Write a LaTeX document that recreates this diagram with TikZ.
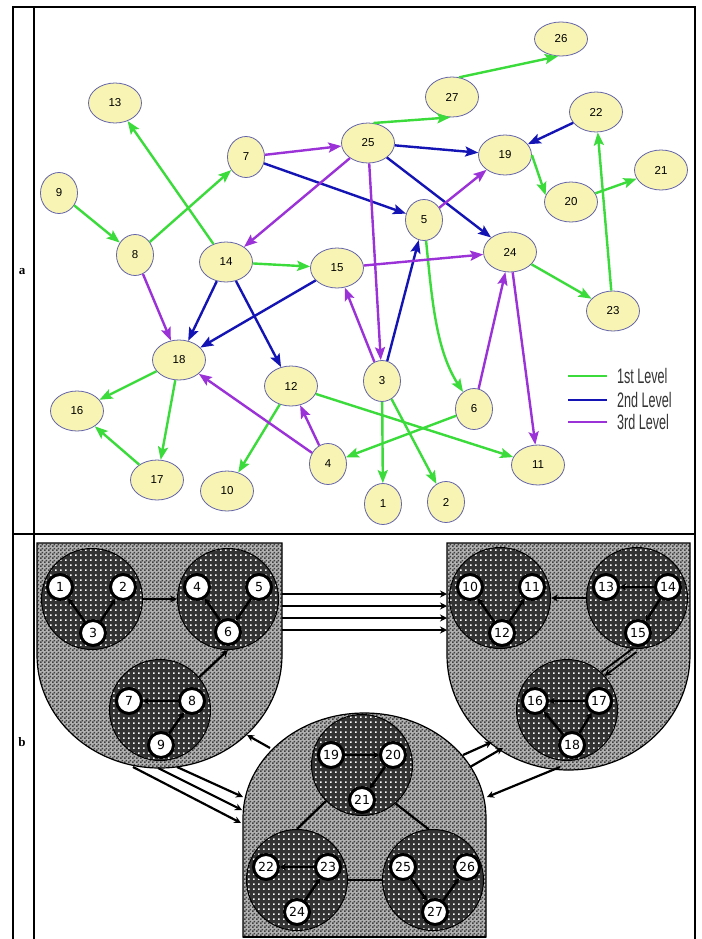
\documentclass[tikz,border=0pt]{standalone}
\usepackage{fontspec}
\setmainfont{Liberation Sans}
\newfontfamily\numfont{DejaVu Sans}
\newfontfamily\labfont{Liberation Serif}
\usetikzlibrary{shapes.geometric,arrows.meta,patterns.meta}

\definecolor{lvlone}{HTML}{3ADB3A}
\definecolor{lvltwo}{HTML}{1414B4}
\definecolor{lvlthree}{HTML}{9A32D8}
\definecolor{nodefill}{HTML}{F8F4B4}
\definecolor{nodeedge}{HTML}{6464AA}

% halftone screens for the grouped view
\tikzdeclarepattern{
  name=lightht,
  type=uncolored,
  bounding box={(0pt,0pt) and (4pt,4pt)},
  tile size={(4pt,4pt)},
  code={
    \fill (0pt,0pt) rectangle (2pt,2pt);
    \fill (2pt,2pt) rectangle (4pt,4pt);
  }
}
\tikzdeclarepattern{
  name=darkht,
  type=uncolored,
  bounding box={(0pt,0pt) and (4.5pt,4.5pt)},
  tile size={(4.5pt,4.5pt)},
  code={
    \fill (0pt,0pt) rectangle (1.8pt,1.8pt);
  }
}

\begin{document}
\begin{tikzpicture}[x=1pt,y=-1pt,
  bub/.style={ellipse, draw=nodeedge, line width=0.8pt, fill=nodefill,
    minimum width=53pt, minimum height=40pt, inner sep=0pt,
    font=\fontsize{11.5}{11.5}\selectfont},
  sbub/.style={bub, minimum width=37pt, minimum height=41pt},
  tip/.style={-{Stealth[length=13pt,width=10pt,inset=2.5pt]}},
  gline/.style={lvlone, line width=2.4pt, tip},
  bline/.style={lvltwo, line width=2.4pt, tip},
  pline/.style={lvlthree, line width=2.4pt, tip},
  legtext/.style={anchor=west, xscale=0.6, text=black!80,
    font=\fontsize{21}{21}\selectfont},
  zone/.style={draw=black, line width=1.2pt, preaction={fill=black!30},
    pattern={lightht}, pattern color=black!75},
  cluster/.style={circle, draw=black, line width=1pt, minimum size=101pt,
    inner sep=0pt, preaction={fill=black!80}, pattern={darkht}, pattern color=white},
  bnode/.style={circle, draw=black, fill=white, line width=3pt, minimum size=25pt,
    inner sep=0pt, font=\numfont\fontsize{12.5}{12.5}\selectfont},
  inarr/.style={line width=2.5pt, -{Stealth[length=6pt,width=7pt]}},
  clarr/.style={line width=2.2pt, -{Stealth[length=7pt,width=7pt]}},
  plainlink/.style={line width=2.2pt}
]
\useasboundingbox (0,0) rectangle (701,939);
\fill[white] (0,0) rectangle (701,939);

% table frame
\draw[line width=2.5pt] (13,939) -- (13,7) -- (695,7) -- (695,939);
\draw[line width=2pt] (34,7) -- (34,939);
\draw[line width=2.5pt] (13,534) -- (695,534);
\node[font=\labfont\bfseries\fontsize{13}{13}\selectfont] (lbla) at (22,272) {a};
\node[font=\labfont\bfseries\fontsize{13}{13}\selectfont] (lblb) at (22,742) {b};

% ---------- (a) call graph ----------
\node[sbub] (a1) at (383,504) {1};
\node[sbub] (a2) at (446,502) {2};
\node[sbub] (a3) at (382,381) {3};
\node[sbub] (a4) at (328,464) {4};
\node[sbub] (a5) at (424,220) {5};
\node[sbub] (a6) at (474,409) {6};
\node[sbub] (a7) at (246,157) {7};
\node[sbub] (a8) at (135,255) {8};
\node[sbub] (a9) at (59,193) {9};
\node[bub] (a10) at (227,491) {10};
\node[bub] (a11) at (538,465) {11};
\node[bub] (a12) at (291,386) {12};
\node[bub] (a13) at (115,103) {13};
\node[bub] (a14) at (226,262) {14};
\node[bub] (a15) at (337,268) {15};
\node[bub] (a16) at (77,411) {16};
\node[bub] (a17) at (157,480) {17};
\node[bub] (a18) at (179,360) {18};
\node[bub] (a19) at (505,155) {19};
\node[bub] (a20) at (571,202) {20};
\node[bub] (a21) at (661,170) {21};
\node[bub] (a22) at (596,112) {22};
\node[bub] (a23) at (613,311) {23};
\node[bub] (a24) at (510,252) {24};
\node[bub] (a25) at (368,143) {25};
\node[bub, minimum height=34pt] (a26) at (561,39) {26};
\node[bub] (a27) at (452,97) {27};

% 1st level
\draw[gline] (a9) -- (a8);
\draw[gline] (a8) -- (a7);
\draw[gline] (a14) -- (a13);
\draw[gline] (a25.75) -- (a27.-95);
\draw[gline] (a27.70) -- (a26.-100);
\draw[gline] (a19.east) -- (a20.165);
\draw[gline] (a20) -- (a21);
\draw[gline] (a23) -- (a22);
\draw[gline] (a24) -- (a23);
\draw[gline] (a14) -- (a15);
\draw[gline] (a5) .. controls (432,300) and (436,350) .. (a6);
\draw[gline] (a18) -- (a16);
\draw[gline] (a18) -- (a17);
\draw[gline] (a17) -- (a16);
\draw[gline] (a12) -- (a10);
\draw[gline] (a12) -- (a11);
\draw[gline] (a6) -- (a4);
\draw[gline] (a3) -- (a1);
\draw[gline] (a3) -- (a2);
% 2nd level
\draw[bline] (a7) -- (a5);
\draw[bline] (a25) -- (a19);
\draw[bline] (a25) -- (a24);
\draw[bline] (a22) -- (a19);
\draw[bline] (a3) -- (a5);
\draw[bline] (a14) -- (a18);
\draw[bline] (a14) -- (a12);
\draw[bline] (a15) -- (a18);
% 3rd level
\draw[pline] (a7) -- (a25);
\draw[pline] (a25) -- (a14);
\draw[pline] (a25) -- (a3);
\draw[pline] (a5) -- (a19);
\draw[pline] (a15) -- (a24);
\draw[pline] (a8) -- (a18);
\draw[pline] (a3) -- (a15);
\draw[pline] (a6) -- (a24);
\draw[pline] (a24) -- (a11);
\draw[pline] (a4) -- (a18);
\draw[pline] (a4) -- (a12);

% legend
\coordinate (lg1a) at (568,376); \coordinate (lg1b) at (607,376);
\coordinate (lg2a) at (568,400); \coordinate (lg2b) at (607,400);
\coordinate (lg3a) at (568,422); \coordinate (lg3b) at (607,422);
\draw[lvlone, line width=2.6pt] (lg1a) -- (lg1b);
\draw[lvltwo, line width=2.6pt] (lg2a) -- (lg2b);
\draw[lvlthree, line width=2.6pt] (lg3a) -- (lg3b);
\node[legtext] (lgt1) at (615,376) {1st Level};
\node[legtext] (lgt2) at (615,400) {2nd Level};
\node[legtext] (lgt3) at (615,422) {3rd Level};

% ---------- (b) grouped view ----------
% outer groups
\path[zone] (37,543) -- (282,543) -- (282,655)
  arc[start angle=0, end angle=-180, x radius=122.5pt, y radius=113pt] -- cycle;
\path[zone] (447,543) -- (690,543) -- (690,655)
  arc[start angle=0, end angle=-180, x radius=121.5pt, y radius=115pt] -- cycle;
\path[zone] (243,937) -- (243,818)
  arc[start angle=180, end angle=0, x radius=121.5pt, y radius=105pt] -- (486,937) -- cycle;
\draw[line width=2.5pt] (243,937) -- (486,937);

% inner clusters
\node[cluster] (cA) at (92,599) {};
\node[cluster] (cB) at (228,599) {};
\node[cluster] (cC) at (160,710) {};
\node[cluster] (cD) at (500,598) {};
\node[cluster] (cE) at (637,598) {};
\node[cluster] (cF) at (567,710) {};
\node[cluster] (cG) at (362,765) {};
\node[cluster] (cH) at (297,880) {};
\node[cluster] (cI) at (433,880) {};

% links between clusters
\draw[clarr] (cA) -- (cB);
\draw[clarr] (cC.40) -- (cB.south);
\draw[clarr] (cE) -- (cD);
\coordinate (e1s) at (633.5,648); \coordinate (e1t) at (601.5,672);
\coordinate (e2s) at (636.5,652); \coordinate (e2t) at (604.5,676);
\draw[line width=1.8pt] (e1s) -- (e1t);
\draw[clarr, line width=1.8pt] (e2s) -- (e2t);
\draw[plainlink] (cG.225) -- (cH.north);
\draw[plainlink] (cG.-49) -- (cI.95);
\draw[plainlink] (cH) -- (cI);

% links between groups
\foreach \i/\y in {1/594, 2/606, 3/618, 4/630} {
  \coordinate (lr\i s) at (282,\y);
  \coordinate (lr\i t) at (447,\y);
  \draw[clarr] (lr\i s) -- (lr\i t);
}
\coordinate (bl1s) at (270,748); \coordinate (bl1t) at (247,735);
\draw[clarr] (bl1s) -- (bl1t);
\coordinate (lb1s) at (133,767); \coordinate (lb1t) at (241,823);
\coordinate (lb2s) at (158,768); \coordinate (lb2t) at (242,810);
\coordinate (lb3s) at (177,767); \coordinate (lb3t) at (243,797);
\draw[clarr] (lb1s) -- (lb1t);
\draw[clarr] (lb2s) -- (lb2t);
\draw[clarr] (lb3s) -- (lb3t);
\coordinate (br1s) at (463,755); \coordinate (br1t) at (492,742);
\coordinate (br2s) at (470,767); \coordinate (br2t) at (503,748);
\draw[clarr] (br1s) -- (br1t);
\draw[clarr] (br2s) -- (br2t);
\coordinate (rb1s) at (560,767); \coordinate (rb1t) at (487,797);
\draw[clarr] (rb1s) -- (rb1t);

% member nodes
\node[bnode] (b1) at (60,587) {1};
\node[bnode] (b2) at (123,587) {2};
\node[bnode] (b3) at (93,633) {3};
\node[bnode] (b4) at (197,587) {4};
\node[bnode] (b5) at (259,587) {5};
\node[bnode] (b6) at (228,632) {6};
\node[bnode] (b7) at (129,701) {7};
\node[bnode] (b8) at (192,701) {8};
\node[bnode] (b9) at (161,745) {9};
\node[bnode] (b10) at (470,587) {10};
\node[bnode] (b11) at (532,587) {11};
\node[bnode] (b12) at (502,633) {12};
\node[bnode] (b13) at (606,587) {13};
\node[bnode] (b14) at (668,587) {14};
\node[bnode] (b15) at (638,633) {15};
\node[bnode] (b16) at (535,701) {16};
\node[bnode] (b17) at (599,701) {17};
\node[bnode] (b18) at (572,745) {18};
\node[bnode] (b19) at (331,755) {19};
\node[bnode] (b20) at (393,755) {20};
\node[bnode] (b21) at (362,800) {21};
\node[bnode] (b22) at (266,867) {22};
\node[bnode] (b23) at (328,867) {23};
\node[bnode] (b24) at (297,912) {24};
\node[bnode] (b25) at (403,867) {25};
\node[bnode] (b26) at (467,867) {26};
\node[bnode] (b27) at (435,912) {27};

% links inside clusters
\draw[inarr] (b3) -- (b1);
\draw[inarr] (b3) -- (b2);
\draw[inarr] (b5) -- (b6);
\draw[inarr] (b6) -- (b4);
\draw[inarr] (b8) -- (b7);
\draw[inarr] (b9) -- (b8);
\draw[inarr] (b12) -- (b10);
\draw[inarr] (b12) -- (b11);
\draw[inarr] (b14) -- (b13);
\draw[inarr] (b14) -- (b15);
\draw[inarr] (b17) -- (b16);
\draw[inarr] (b18) -- (b16);
\draw[inarr] (b18) -- (b17);
\draw[inarr] (b19) -- (b20);
\draw[inarr] (b20) -- (b21);
\draw[inarr] (b23) -- (b22);
\draw[inarr] (b24) -- (b23);
\draw[inarr] (b25) -- (b27);
\draw[inarr] (b27) -- (b26);
\end{tikzpicture}
\end{document}
